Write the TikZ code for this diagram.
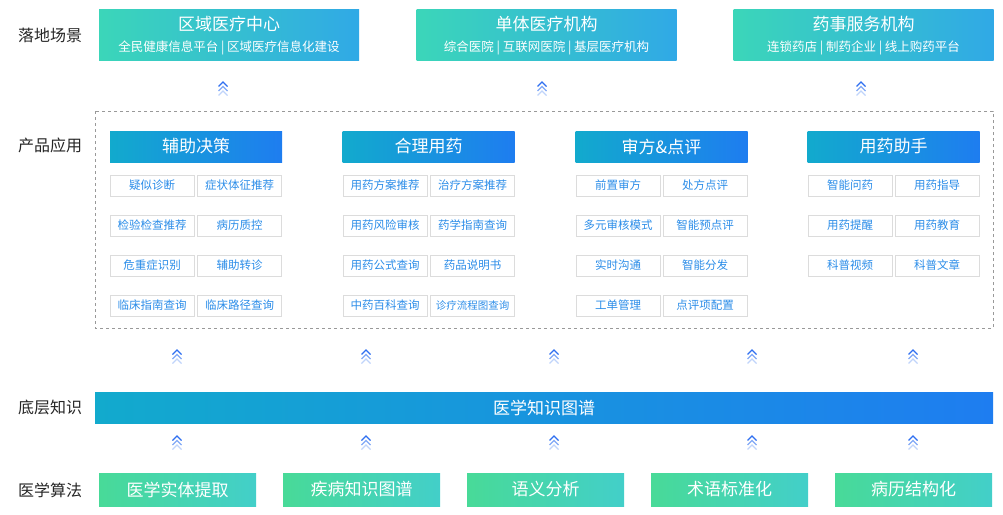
\documentclass[tikz,border=0pt]{standalone}
\usepackage{fontspec}
\setmainfont{Noto Sans CJK SC}
\usetikzlibrary{positioning}
\definecolor{sceneA}{HTML}{3BD6B9}
\definecolor{sceneB}{HTML}{30A9E6}
\definecolor{headA}{HTML}{12AACD}
\definecolor{headB}{HTML}{1E7DF0}
\definecolor{algoA}{HTML}{48DA98}
\definecolor{algoB}{HTML}{43CFC9}
\definecolor{itemtext}{HTML}{2A8CE8}
\definecolor{itemline}{HTML}{DCDCDC}
\definecolor{chev}{HTML}{2F6FF0}
\begin{document}
\begin{tikzpicture}[x=1pt, y=-1pt,
    scene/.style={rectangle, minimum width=260pt, minimum height=51pt,
        left color=sceneA, right color=sceneB, inner sep=0pt},
    header/.style={rectangle, minimum width=172pt, minimum height=31pt,
        left color=headA, right color=headB, text=white, font=\fontsize{17}{17}\selectfont},
    item/.style={rectangle, draw=itemline, minimum width=84pt, minimum height=21pt,
        text=itemtext, font=\fontsize{11.5}{11.5}\selectfont, inner sep=0pt},
    algo/.style={rectangle, minimum width=157pt, minimum height=33pt,
        left color=algoA, right color=algoB, text=white, font=\fontsize{17}{17}\selectfont},
    side/.style={font=\fontsize{16}{16}\selectfont, text=black!85},
    up/.pic={
        \foreach \k/\o in {0/1,4.5/0.6,9/0.3}
            \draw[chev, opacity=\o, line width=1.2pt]
                (-4.5,\k+4.5) -- (0,\k) -- (4.5,\k+4.5);
    }
]
\useasboundingbox (0,0) rectangle (1003,514);

% side labels
\node[side] (lblScene) at (50,35) {落地场景};
\node[side] (lblApp) at (50,145) {产品应用};
\node[side] (lblKnow) at (50,407) {底层知识};
\node[side] (lblAlgo) at (50,490) {医学算法};

% scenes
\foreach \name/\x/\title/\sub in {
    sceneRegion/229/区域医疗中心/全民健康信息平台 | 区域医疗信息化建设,
    sceneSingle/546.5/单体医疗机构/综合医院 | 互联网医院 | 基层医疗机构,
    scenePharm/863.5/药事服务机构/连锁药店 | 制药企业 | 线上购药平台}{
    \node[scene] (\name) at (\x,34.5) {};
    \node[text=white, font=\fontsize{17}{17}\selectfont] at (\x,24) {\title};
    \node[text=white, font=\fontsize{12.5}{12.5}\selectfont] at (\x,48) {\sub};
}
\foreach \x in {223,542,861}
    \pic at (\x,82) {up};

% applications
\draw[black!40, dashed, line width=0.8pt] (95,111) rectangle (993,328);
\node[header] (hDecide) at (196,146.5) {辅助决策};
\node[header] (hDrug) at (428.5,146.5) {合理用药};
\node[header] (hReview) at (661.5,146.5) {审方\&点评};
\node[header] (hHelper) at (893.5,146.5) {用药助手};

\foreach \row/\a/\b/\c/\d/\e/\f/\g/\h [count=\i] in {
    1/疑似诊断/症状体征推荐/用药方案推荐/治疗方案推荐/前置审方/处方点评/智能问药/用药指导,
    2/检验检查推荐/病历质控/用药风险审核/药学指南查询/多元审核模式/智能预点评/用药提醒/用药教育,
    3/危重症识别/辅助转诊/用药公式查询/药品说明书/实时沟通/智能分发/科普视频/科普文章,
    4/临床指南查询/临床路径查询/中药百科查询/{\fontsize{10.5}{10.5}\selectfont 诊疗流程图查询}/工单管理/点评项配置/{}/{}}{
    \pgfmathsetmacro{\yy}{185.5+40*(\i-1)}
    \node[item] (d\i a) at (152,\yy) {\a};
    \node[item] (d\i b) at (239.5,\yy) {\b};
    \node[item] (r\i a) at (385,\yy) {\c};
    \node[item] (r\i b) at (472.5,\yy) {\d};
    \node[item] (v\i a) at (618,\yy) {\e};
    \node[item] (v\i b) at (705,\yy) {\f};
    \ifnum\i<4
    \node[item] (h\i a) at (850,\yy) {\g};
    \node[item] (h\i b) at (937,\yy) {\h};
    \fi
}
\foreach \x in {177,366,554,752,913} {
    \pic at (\x,350) {up};
    \pic at (\x,436) {up};
}

% knowledge
\node[rectangle, minimum width=898pt, minimum height=31pt, inner sep=0pt,
    left color=headA, right color=headB, text=white,
    font=\fontsize{17}{17}\selectfont] (graph) at (544,407.5) {医学知识图谱};

% algorithms
\node[algo] (aEntity) at (177.5,489.5) {医学实体提取};
\node[algo] (aDisease) at (361.5,489.5) {疾病知识图谱};
\node[algo] (aSemantic) at (545.5,489.5) {语义分析};
\node[algo] (aTerm) at (729.5,489.5) {术语标准化};
\node[algo] (aRecord) at (913.5,489.5) {病历结构化};
\end{tikzpicture}
\end{document}
